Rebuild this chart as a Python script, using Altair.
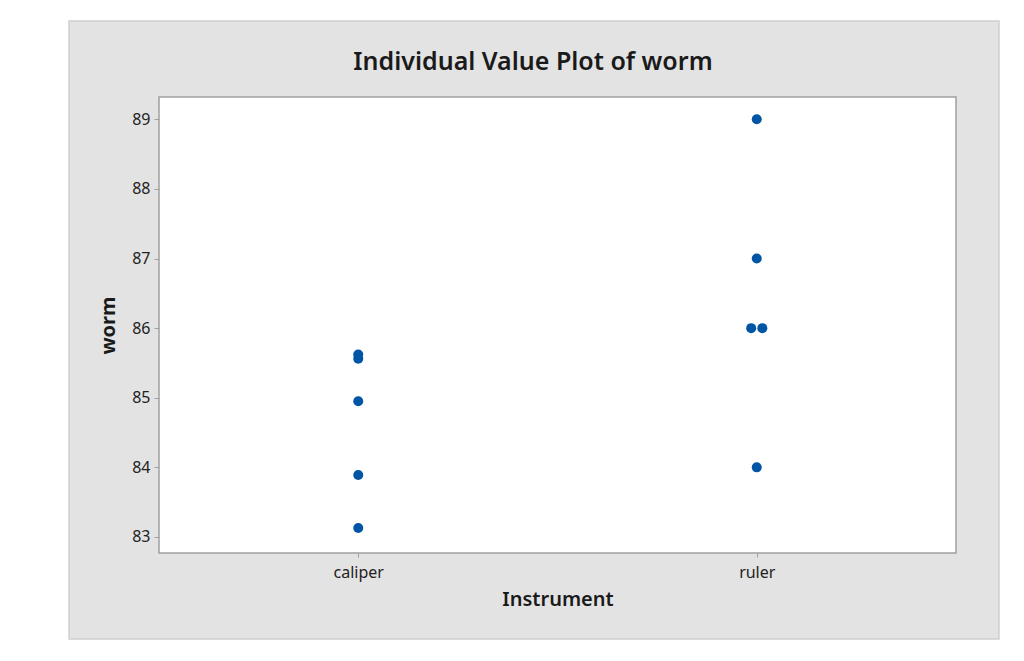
import altair as alt
import pandas as pd

categories = ["caliper", "ruler"]
instrument = ["caliper", "caliper", "caliper", "caliper", "caliper",
              "ruler", "ruler", "ruler", "ruler", "ruler"]
worm = [83.13, 83.89, 84.95, 85.56, 85.62,
        84.0, 86.0, 86.0, 87.0, 89.0]
jitter = [0, 0, 0, 0, 0, 0, -0.014, 0.014, 0, 0]
y_ticks = [83, 84, 85, 86, 87, 88, 89]

W, H = 797, 456
FONT = "Noto Sans"

df = pd.DataFrame({
    "Instrument": instrument,
    "worm": worm,
    "pos": [categories.index(c) + 1 + j for c, j in zip(instrument, jitter)],
})
one = pd.DataFrame({"a": [0]})

xscale = alt.Scale(domain=[0.5, 2.5], nice=False, zero=False)
yscale = alt.Scale(domain=[82.77, 89.32], nice=False, zero=False)

panel = alt.Chart(one).mark_rect(fill="#e3e3e3", stroke="#d0d0d0", strokeWidth=1.5).encode(
    x=alt.value(-90), x2=alt.value(W + 43), y=alt.value(-76), y2=alt.value(H + 86)
)
plotbg = alt.Chart(one).mark_rect(fill="white", stroke="#a0a0a0", strokeWidth=1.5).encode(
    x=alt.value(0), x2=alt.value(W), y=alt.value(0), y2=alt.value(H)
)
title = alt.Chart(one).mark_text(
    text="Individual Value Plot of worm", font=FONT, fontSize=25, fontWeight=600,
    color="#1a1a1a", align="center", baseline="middle"
).encode(x=alt.value(374), y=alt.value(-35))

points = alt.Chart(df).mark_circle(size=100, color="#0055a5", opacity=1).encode(
    x=alt.X("pos:Q", scale=xscale, title="Instrument",
            axis=alt.Axis(values=[1, 2], labelExpr="datum.value == 1 ? 'caliper' : 'ruler'",
                          grid=False, domain=False, tickColor="#a0a0a0", tickSize=4,
                          labelFont=FONT, labelFontSize=16, labelColor="#222222", labelPadding=7,
                          titleFont=FONT, titleFontSize=20, titleFontWeight=600, titleColor="#1a1a1a",
                          titlePadding=9, zindex=1)),
    y=alt.Y("worm:Q", scale=yscale, title="worm",
            axis=alt.Axis(values=y_ticks, grid=False, domain=False, tickColor="#a0a0a0", tickSize=5,
                          labelFont=FONT, labelFontSize=16, labelColor="#222222", labelPadding=4,
                          titleFont=FONT, titleFontSize=20, titleFontWeight="bold", titleColor="#1a1a1a",
                          titlePadding=13, zindex=1)),
)

chart = alt.layer(panel, plotbg, title, points).properties(
    width=W, height=H, background="white",
    padding={"left": 60, "top": 12, "right": 0, "bottom": 0}
).configure_view(stroke=None)

chart.save("out.html", embed_options={"renderer": "svg", "actions": False})
